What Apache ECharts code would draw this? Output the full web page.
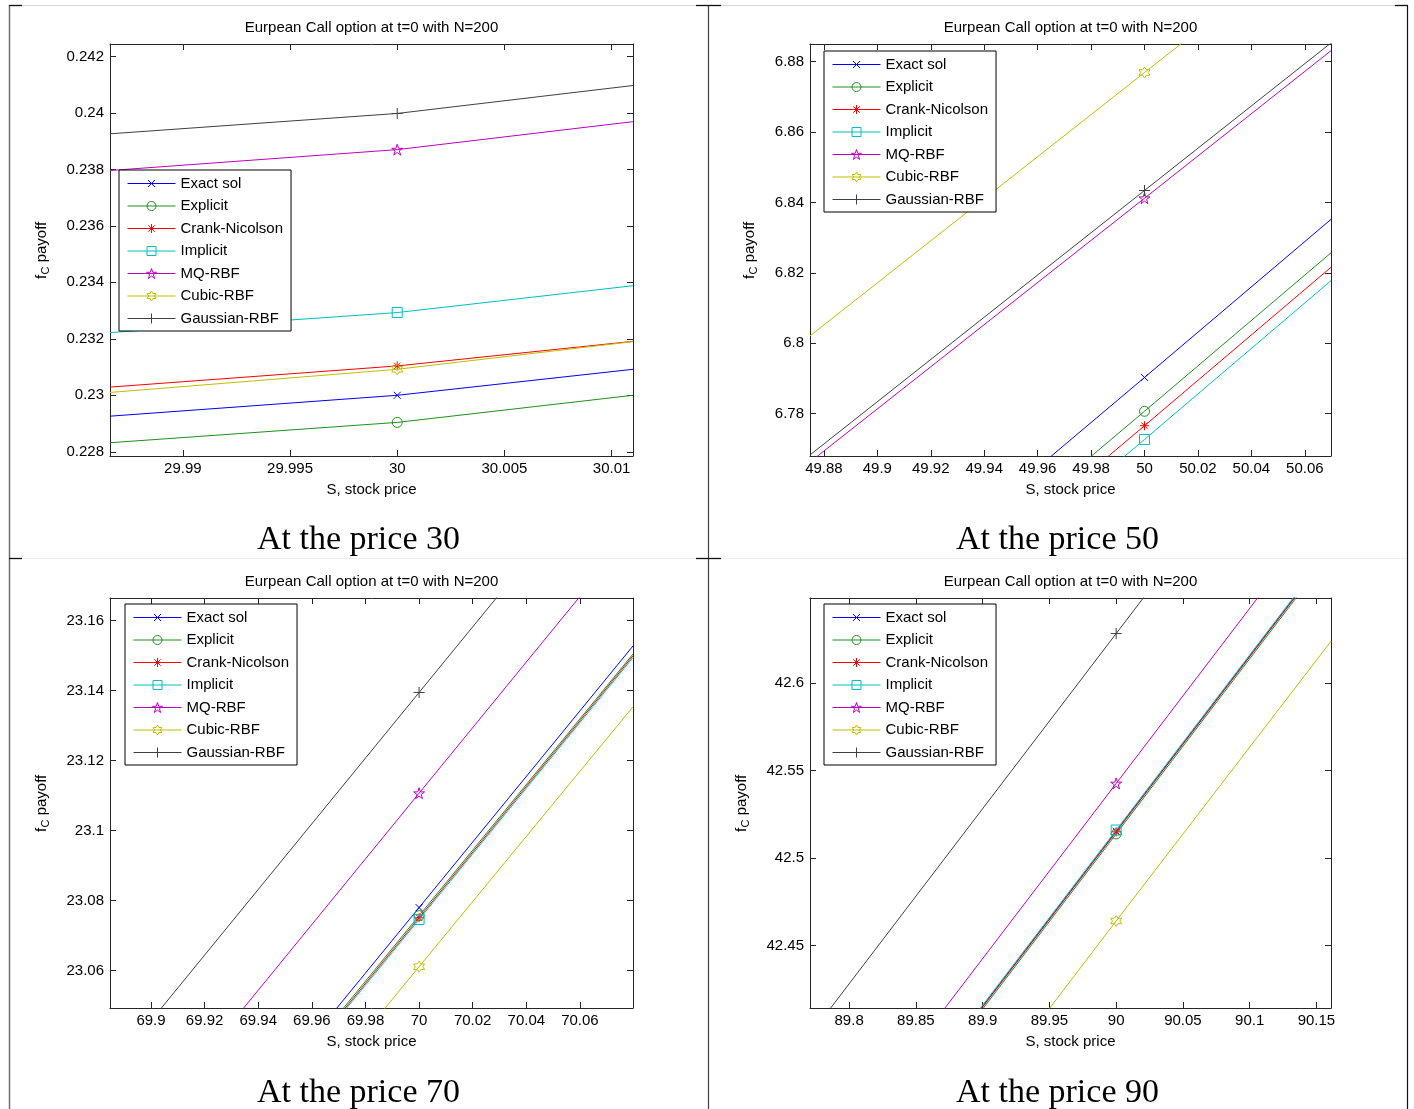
<!DOCTYPE html>
<html>
<head>
<meta charset="utf-8">
<title>Eurpean Call option at t=0 with N=200</title>
<script src="https://cdn.jsdelivr.net/npm/echarts@6/dist/echarts.min.js"></script>
<style>
html, body { margin: 0; padding: 0; background: #fff; }
#main { width: 1414px; height: 1109px; }
</style>
</head>
<body>
<div id="main"></div>
<script>
// legend names, plotting order
var methods = ['Exact sol', 'Explicit', 'Crank-Nicolson', 'Implicit', 'MQ-RBF', 'Cubic-RBF', 'Gaussian-RBF'];

// S values: left edge of the zoom, the strike point, right edge of the zoom
var s30 = [29.9866, 30, 30.0110];
var s50 = [49.8748, 50, 50.0698];
var s70 = [69.8847, 70, 70.0798];
var s90 = [89.7707, 90, 90.1609];

// f_C payoff for each method (rows follow `methods`)
var v30 = [
    [0.22926, 0.23000, 0.23092],
    [0.22832, 0.22904, 0.23000],
    [0.23029, 0.23104, 0.23191],
    [0.23222, 0.23293, 0.23388],
    [0.23796, 0.23870, 0.23969],
    [0.23010, 0.23092, 0.23190],
    [0.23926, 0.23998, 0.24097]
];
var v50 = [
    [6.7102, 6.7903, 6.8352],
    [6.7006, 6.7807, 6.8257],
    [6.6965, 6.7766, 6.8216],
    [6.6925, 6.7727, 6.8178],
    [6.7663, 6.8412, 6.8831],
    [6.8021, 6.8769, 6.9185],
    [6.7683, 6.8434, 6.8853]
];
var v70 = [
    [22.9701, 23.0780, 23.1528],
    [22.9677, 23.0757, 23.1505],
    [22.9671, 23.0751, 23.1500],
    [22.9666, 23.0746, 23.1495],
    [23.0025, 23.1107, 23.1855],
    [22.9535, 23.0611, 23.1354],
    [23.0313, 23.1395, 23.2143]
];
var v90 = [
    [42.2860, 42.5153, 42.6762],
    [42.2845, 42.5138, 42.6747],
    [42.2857, 42.5150, 42.6759],
    [42.2867, 42.5160, 42.6769],
    [42.3133, 42.5426, 42.7035],
    [42.2348, 42.4641, 42.6238],
    [42.3989, 42.6282, 42.7891]
];

// tick labels
var ticks30x = [29.99, 29.995, 30, 30.005, 30.01];
var ticks30y = [0.228, 0.23, 0.232, 0.234, 0.236, 0.238, 0.24, 0.242];
var ticks50x = [49.88, 49.9, 49.92, 49.94, 49.96, 49.98, 50, 50.02, 50.04, 50.06];
var ticks50y = [6.78, 6.8, 6.82, 6.84, 6.86, 6.88];
var ticks70x = [69.9, 69.92, 69.94, 69.96, 69.98, 70, 70.02, 70.04, 70.06];
var ticks70y = [23.06, 23.08, 23.1, 23.12, 23.14, 23.16];
var ticks90x = [89.8, 89.85, 89.9, 89.95, 90, 90.05, 90.1, 90.15];
var ticks90y = [42.45, 42.5, 42.55, 42.6];

var captions = ['At the price 30', 'At the price 50', 'At the price 70', 'At the price 90'];

var SANS = 'Liberation Sans';
var colors = ['#0000ff', '#1f8f1f', '#ff0000', '#00bfbf', '#bf00bf', '#bfbf00', '#404040'];
var symbols = [
    'path://M0,0L10,10M10,0L0,10',
    'path://M0,5A5,5 0 1,0 10,5A5,5 0 1,0 0,5Z',
    'path://M5,0L5,10M0,5L10,5M1.5,1.5L8.5,8.5M8.5,1.5L1.5,8.5',
    'path://M0,0L10,0L10,10L0,10Z',
    'path://M5,0L6.2,3.8L10,3.8L6.9,6.1L8.1,10L5,7.6L1.9,10L3.1,6.1L0,3.8L3.8,3.8Z',
    'path://M5,0L6.4,2.5L9.3,2.5L7.9,5L9.3,7.5L6.4,7.5L5,10L3.6,7.5L0.7,7.5L2.1,5L0.7,2.5L3.6,2.5Z',
    'path://M5,0L5,10M0,5L10,5'
];
// legend samples: a 48px line with the marker in its middle
var legendIcons = [
    'path://M0,6L48,6M20.5,2.5L27.5,9.5M27.5,2.5L20.5,9.5',
    'path://M0,6L48,6M19.5,6A4.5,4.5 0 1,0 28.5,6A4.5,4.5 0 1,0 19.5,6Z',
    'path://M0,6L48,6M24,1.5L24,10.5M19.5,6L28.5,6M20.8,2.8L27.2,9.2M27.2,2.8L20.8,9.2',
    'path://M0,6L48,6M19.5,1.5L28.5,1.5L28.5,10.5L19.5,10.5Z',
    'path://M0,6L48,6M24,1L25.2,4.8L29,4.8L25.9,7.1L27.1,11L24,8.6L20.9,11L22.1,7.1L19,4.8L22.8,4.8Z',
    'path://M0,6L48,6M24,1L25.4,3.5L28.3,3.5L26.9,6L28.3,8.5L25.4,8.5L24,11L22.6,8.5L19.7,8.5L21.1,6L19.7,3.5L22.6,3.5Z',
    'path://M0,6L48,6M24,1L24,11M19,6L29,6'
];
var symSizes = [7, 10, 9, 10, 11, 11, 11];
var CLEAR = 'rgba(255,255,255,0)';

var panels = [
    { s: s30, v: v30, tx: ticks30x, ty: ticks30y, xr: [29.9866, 30.0110], yr: [0.22785, 0.24244],
      grid: { left: 110, top: 44, width: 523, height: 412 }, legend: { left: 119, top: 170 }, yLabelX: 42 },
    { s: s50, v: v50, tx: ticks50x, ty: ticks50y, xr: [49.8748, 50.0698], yr: [6.768, 6.885],
      grid: { left: 810, top: 44, width: 521, height: 412 }, legend: { left: 824, top: 51 }, yLabelX: 750 },
    { s: s70, v: v70, tx: ticks70x, ty: ticks70y, xr: [69.8847, 70.0798], yr: [23.0493, 23.1665],
      grid: { left: 110, top: 598, width: 523, height: 410 }, legend: { left: 125, top: 604 }, yLabelX: 42 },
    { s: s90, v: v90, tx: ticks90x, ty: ticks90y, xr: [89.7707, 90.1609], yr: [42.4144, 42.6485],
      grid: { left: 810, top: 598, width: 521, height: 410 }, legend: { left: 824, top: 604 }, yLabelX: 742 }
];

function fmt(v) { return String(parseFloat(v.toFixed(6))); }

function axis(p, pos, ticks, range, withLabels) {
    return {
        type: 'value', gridIndex: p, position: pos, min: range[0], max: range[1],
        axisLine: { show: true, onZero: false, lineStyle: { color: '#262626', width: 1 } },
        axisTick: { show: true, inside: true, length: 6, customValues: ticks, lineStyle: { color: '#262626' } },
        axisLabel: { show: withLabels, customValues: ticks, formatter: fmt, color: '#000',
            fontFamily: SANS, fontSize: 15, margin: (pos === 'left' ? 6 : 5) },
        splitLine: { show: false }
    };
}

// "f_C payoff" written bottom-to-top with a real subscript
function yLabel(cx, cy) {
    var font = '15px "Liberation Sans"';
    return {
        type: 'group', x: cx, y: cy + 29, rotation: Math.PI / 2, silent: true,
        children: [
            { type: 'text', x: 0, y: 0, style: { text: 'f', font: font, fill: '#000', textAlign: 'left', textVerticalAlign: 'middle' } },
            { type: 'text', x: 4.5, y: 4, style: { text: 'C', font: '11px "Liberation Sans"', fill: '#000', textAlign: 'left', textVerticalAlign: 'middle' } },
            { type: 'text', x: 12.5, y: 0, style: { text: ' payoff', font: font, fill: '#000', textAlign: 'left', textVerticalAlign: 'middle' } }
        ]
    };
}

// each panel gets its own series names ("name|panel"), the legend shows only the name
function seriesName(m, p) { return methods[m] + '|' + p; }

var grids = [], xAxes = [], yAxes = [], series = [], legends = [], titles = [], graphics = [];
panels.forEach(function (pn, p) {
    grids.push(pn.grid);
    var xb = axis(p, 'bottom', pn.tx, pn.xr, true);
    xb.name = 'S, stock price';
    xb.nameLocation = 'middle';
    xb.nameGap = 26;
    xb.nameTextStyle = { color: '#000', fontFamily: SANS, fontSize: 15 };
    xAxes.push(xb, axis(p, 'top', pn.tx, pn.xr, false));
    yAxes.push(axis(p, 'left', pn.ty, pn.yr, true), axis(p, 'right', pn.ty, pn.yr, false));
    graphics.push(yLabel(pn.yLabelX, pn.grid.top + pn.grid.height / 2));

    methods.forEach(function (name, m) {
        var pts = pn.s.map(function (s, i) { return [s, pn.v[m][i]]; });
        series.push({
            type: 'line', name: seriesName(m, p), xAxisIndex: 2 * p, yAxisIndex: 2 * p,
            data: pts, clip: true, silent: true, legendHoverLink: false,
            symbol: symbols[m],
            symbolSize: (function (sz) { return function (val, params) { return params.dataIndex === 1 ? sz : 0; }; })(symSizes[m]),
            lineStyle: { color: colors[m], width: 1 },
            itemStyle: { color: CLEAR, borderColor: colors[m], borderWidth: 1 },
            emphasis: { disabled: true },
            z: 2 + m * 0.01
        });
    });

    legends.push({
        orient: 'vertical', left: pn.legend.left, top: pn.legend.top, z: 10,
        data: methods.map(function (name, m) {
            return {
                name: seriesName(m, p),
                icon: legendIcons[m],
                itemStyle: { color: CLEAR, borderColor: colors[m], borderWidth: 1 }
            };
        }),
        formatter: function (n) { return n.split('|')[0]; },
        selectedMode: false, itemWidth: 48, itemHeight: 12, itemGap: 7.5,
        padding: [6, 8, 5, 8], borderColor: '#000', borderWidth: 1, borderRadius: 0,
        backgroundColor: '#fff',
        textStyle: { color: '#000', fontFamily: SANS, fontSize: 15, lineHeight: 15 }
    });

    var cx = pn.grid.left + pn.grid.width / 2;
    titles.push({
        text: 'Eurpean Call option at t=0 with N=200', left: cx, top: pn.grid.top - 24,
        textAlign: 'center', padding: 0,
        textStyle: { color: '#000', fontFamily: SANS, fontSize: 15, fontWeight: 'normal' }
    });
    titles.push({
        text: captions[p], left: (p % 2 === 0 ? 358.5 : 1057.5), top: (p < 2 ? 523 : 1076),
        textAlign: 'center', padding: 0,
        textStyle: { color: '#000', fontFamily: 'Liberation Serif', fontSize: 34, fontWeight: 'normal' }
    });
});

// table rules around the four pictures
function rule(x1, y1, x2, y2, c, w) {
    return { type: 'line', silent: true, shape: { x1: x1, y1: y1, x2: x2, y2: y2 }, style: { stroke: c, lineWidth: w } };
}
graphics.push(
    rule(9, 5.5, 1408, 5.5, '#d6d6d6', 1),
    rule(9, 558.5, 1408, 558.5, '#eeeeee', 1),
    rule(9.5, 5, 9.5, 1109, '#707070', 1.5),
    rule(708.5, 5, 708.5, 1109, '#404040', 1.2),
    rule(1407.5, 5, 1407.5, 1109, '#111111', 1.2),
    rule(9, 5.5, 22, 5.5, '#111', 1.3),
    rule(696, 5.5, 721, 5.5, '#111', 1.3),
    rule(1395, 5.5, 1408, 5.5, '#111', 1.3),
    rule(9, 558.5, 22, 558.5, '#111', 1.3),
    rule(696, 558.5, 721, 558.5, '#111', 1.3)
);

var chart = echarts.init(document.getElementById('main'));
chart.setOption({
    animation: false,
    backgroundColor: '#fff',
    title: titles,
    grid: grids,
    xAxis: xAxes,
    yAxis: yAxes,
    legend: legends,
    series: series,
    graphic: graphics
});
</script>
</body>
</html>
